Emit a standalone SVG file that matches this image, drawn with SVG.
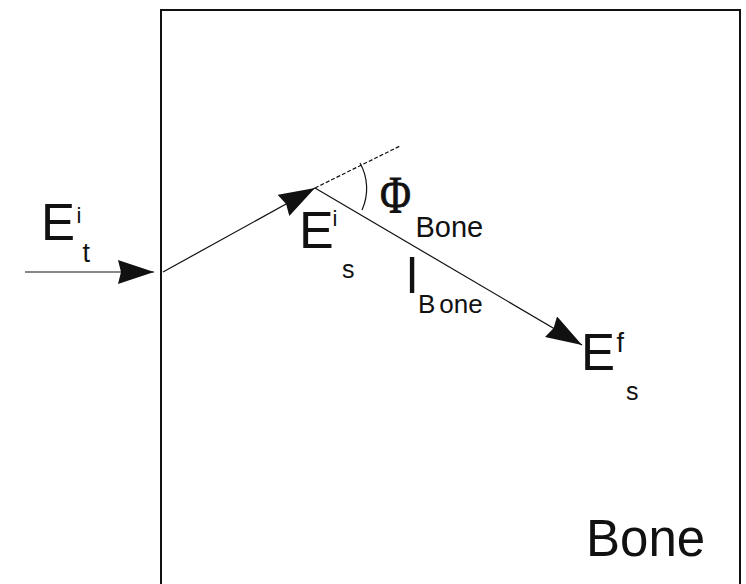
<svg xmlns="http://www.w3.org/2000/svg" width="746" height="584" viewBox="0 0 746 584">
<style>
.t{font-family:"Liberation Sans",Arial,sans-serif;fill:#111}
.ln{stroke:#111;stroke-width:1.2;fill:none}
</style>
<defs>
<marker id="ah" markerWidth="36" markerHeight="24" refX="36" refY="12" orient="auto" markerUnits="userSpaceOnUse">
<path d="M0,0 L36,12 L0,24 L3,12 Z" fill="#111"/>
</marker>
</defs>
<rect width="746" height="584" fill="#fff"/>
<g id="bone-box">
<path d="M161,590 L161,10 L740,10 L740,590" stroke="#111" stroke-width="2" fill="none"/>
<text class="t" x="586" y="556" font-size="51">Bone</text>
</g>
<g id="connectors">
<line class="ln" x1="25" y1="272" x2="154" y2="272" marker-end="url(#ah)"/>
<line class="ln" x1="163" y1="272" x2="315" y2="188" marker-end="url(#ah)"/>
<line class="ln" x1="315" y1="188" x2="582" y2="345" marker-end="url(#ah)"/>
<line class="ln" x1="315" y1="188" x2="400" y2="146" stroke-dasharray="4 2"/>
<path class="ln" d="M360,163 A52,52 0 0 1 362,210"/>
</g>
<g id="label-Eti">
<text class="t" x="41" y="240" font-size="51">E</text>
<text class="t" x="76.5" y="223" font-size="22">i</text>
<text class="t" x="82.5" y="262" font-size="27">t</text>
</g>
<g id="label-Esi">
<text class="t" x="299" y="248" font-size="52">E</text>
<text class="t" x="332.5" y="226" font-size="22">i</text>
<text class="t" x="342" y="278" font-size="25">s</text>
</g>
<g id="label-phi">
<text x="380" y="213" font-size="53" textLength="31" lengthAdjust="spacingAndGlyphs" font-family="'Liberation Serif','Times New Roman',serif" fill="#111" stroke="#111" stroke-width="0.8">Φ</text>
<text class="t" x="415.5" y="237" font-size="29">Bone</text>
</g>
<g id="label-l">
<text class="t" x="406.5" y="293" font-size="50">l</text>
<text class="t" x="418" y="313" font-size="26">B<tspan dx="4">one</tspan></text>
</g>
<g id="label-Esf">
<text class="t" x="581" y="370" font-size="51">E</text>
<text class="t" x="616.5" y="352" font-size="27">f</text>
<text class="t" x="626" y="400" font-size="25">s</text>
</g>
</svg>
